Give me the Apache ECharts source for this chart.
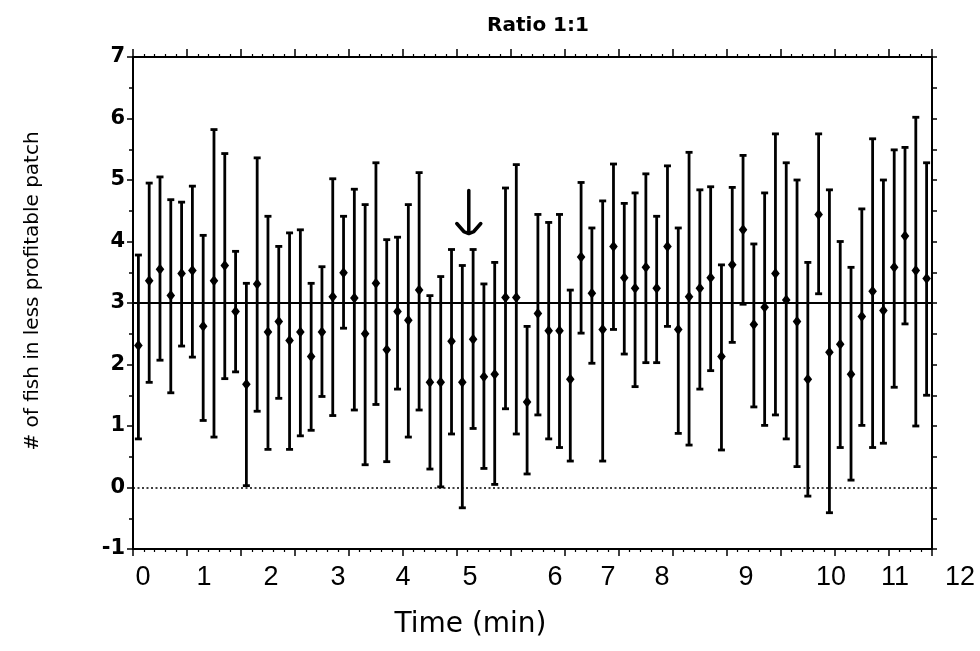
<!DOCTYPE html>
<html><head><meta charset="utf-8">
<script src="https://cdn.jsdelivr.net/npm/echarts@6/dist/echarts.min.js"></script>
<style>html,body{margin:0;padding:0;background:#fff}#c{width:980px;height:651px}</style>
</head><body><div id="c"></div>
<script>
// 10-second bins, mean ± error for "# of fish in less profitable patch"
const means = [2.31,3.36,3.55,3.12,3.48,3.53,2.62,3.36,3.61,2.86,1.68,3.31,2.53,2.70,2.39,2.53,2.13,2.53,3.10,
  3.49,3.08,2.50,3.32,2.24,2.86,2.72,3.21,1.71,1.71,2.38,1.71,2.41,1.80,1.84,3.09,3.09,1.39,2.83,
  2.55,2.55,1.76,3.75,3.16,2.57,3.92,3.41,3.24,3.58,3.24,3.92,2.57,3.10,3.24,3.41,2.13,3.62,4.19,
  2.65,2.93,3.48,3.05,2.70,1.76,4.44,2.20,2.33,1.84,2.78,3.19,2.88,3.58,4.09,3.53,3.40];
const upper = [3.78,4.95,5.05,4.68,4.64,4.90,4.10,5.82,5.43,3.84,3.32,5.36,4.41,3.92,4.14,4.19,3.32,3.59,5.02,
  4.41,4.85,4.60,5.28,4.03,4.07,4.60,5.12,3.12,3.43,3.87,3.61,3.87,3.31,3.66,4.87,5.25,2.62,4.44,
  4.31,4.44,3.21,4.96,4.22,4.66,5.26,4.62,4.79,5.10,4.41,5.23,4.22,5.45,4.84,4.89,3.62,4.88,5.40,
  3.96,4.79,5.75,5.28,5.00,3.66,5.75,4.84,4.00,3.58,4.53,5.67,5.00,5.49,5.53,6.02,5.28];
const lower = [0.79,1.71,2.07,1.54,2.30,2.12,1.09,0.82,1.77,1.88,0.03,1.24,0.62,1.45,0.62,0.84,0.93,1.48,1.17,
  2.59,1.26,0.37,1.35,0.42,1.60,0.82,1.26,0.30,0.01,0.87,-0.33,0.96,0.31,0.05,1.28,0.87,0.22,1.18,
  0.79,0.65,0.43,2.51,2.02,0.43,2.57,2.17,1.64,2.03,2.03,2.62,0.88,0.69,1.60,1.90,0.61,2.36,2.98,
  1.31,1.01,1.18,0.79,0.34,-0.14,3.15,-0.41,0.65,0.12,1.01,0.65,0.72,1.63,2.66,1.00,1.50];
const binCount = 74;
// hand-placed time labels (minutes) and their positions in bin units
const timeLabels = ['0','1','2','3','4','5','6','7','8','9','10','11','12'];
const timeLabelPos = [0.93,6.58,12.78,18.99,25.01,31.21,39.09,43.99,49.0,56.78,64.65,70.58,76.6];
const yMin = -1, yMax = 7;
const refLevel = 3;   // expected value for ratio 1:1
const zeroLevel = 0;
const arrowMark = [31.1, 4.83, 4.13]; // x (bins), top, tip

const barData = means.map((m, i) => [i + 0.5, lower[i], upper[i], m]);

const chart = echarts.init(document.getElementById('c'), null, {renderer: 'canvas'});
const black = '#000';
const labelAxisMax = binCount * (980 - 133) / (980 - 133 - 48);

chart.setOption({
  animation: false,
  backgroundColor: '#fff',
  title: {
    text: 'Ratio 1:1', left: 533, top: 11, textAlign: 'center',
    textStyle: {fontFamily: 'DejaVu Sans', fontWeight: 'bold', fontSize: 20, color: black}
  },
  grid: [
    {left: 133, right: 48, top: 57, bottom: 102},
    {left: 133, right: 0, top: 57, bottom: 102}
  ],
  xAxis: [
    {type: 'value', gridIndex: 0, position: 'bottom', min: 0, max: binCount, interval: 5,
     axisLine: {show: true, onZero: false, lineStyle: {color: black, width: 2}},
     axisTick: {show: true, length: 7, lineStyle: {color: black, width: 1.5}},
     minorTick: {show: true, splitNumber: 5, length: 3, lineStyle: {color: black, width: 1.2}},
     axisLabel: {show: false}, splitLine: {show: false}},
    {type: 'value', gridIndex: 0, position: 'top', min: 0, max: binCount, interval: 5,
     axisLine: {show: true, onZero: false, lineStyle: {color: black, width: 2}},
     axisTick: {show: true, length: 8, lineStyle: {color: black, width: 1.5}},
     minorTick: {show: true, splitNumber: 5, length: 3, lineStyle: {color: black, width: 1.2}},
     axisLabel: {show: false}, splitLine: {show: false}},
    {type: 'value', gridIndex: 1, position: 'bottom', min: 0, max: labelAxisMax,
     axisLine: {show: false}, axisTick: {show: false}, splitLine: {show: false},
     axisLabel: {show: true, customValues: timeLabelPos, margin: 15,
       fontFamily: "'Liberation Sans Narrow', 'Liberation Sans', sans-serif", fontSize: 27, color: black,
       formatter: function (v) {
         let best = 0;
         for (let k = 0; k < timeLabelPos.length; k++) if (Math.abs(timeLabelPos[k] - v) < Math.abs(timeLabelPos[best] - v)) best = k;
         return timeLabels[best];
       }},
     name: 'Time (min)', nameLocation: 'middle', nameGap: 62,
     nameTextStyle: {fontFamily: 'DejaVu Sans', fontSize: 28, color: black, padding: [0, 172, 0, 0]}}
  ],
  yAxis: [
    {type: 'value', gridIndex: 0, position: 'left', min: yMin, max: yMax, interval: 1,
     axisLine: {show: true, onZero: false, lineStyle: {color: black, width: 2}},
     axisTick: {show: true, length: 6, lineStyle: {color: black, width: 1.5}},
     minorTick: {show: true, splitNumber: 2, length: 4, lineStyle: {color: black, width: 1.5}},
     axisLabel: {margin: 8, fontFamily: 'DejaVu Sans', fontWeight: 'bold', fontSize: 21, color: black},
     splitLine: {show: false},
     name: '# of fish in less profitable patch', nameLocation: 'middle', nameGap: 90,
     nameTextStyle: {fontFamily: 'DejaVu Sans', fontSize: 20, color: black, padding: [0, 0, 0, 24]}},
    {type: 'value', gridIndex: 0, position: 'right', min: yMin, max: yMax, interval: 1,
     axisLine: {show: true, onZero: false, lineStyle: {color: black, width: 2}},
     axisTick: {show: true, length: 5, lineStyle: {color: black, width: 1.5}},
     minorTick: {show: true, splitNumber: 2, length: 5, lineStyle: {color: black, width: 1.5}},
     axisLabel: {show: false}, splitLine: {show: false}},
    {type: 'value', gridIndex: 1, min: yMin, max: yMax, show: false}
  ],
  series: [
    {
      type: 'custom', xAxisIndex: 0, yAxisIndex: 0, data: barData, clip: false,
      encode: {x: 0, y: [1, 2, 3]},
      renderItem: function (params, api) {
        const x = api.value(0);
        const lo = api.coord([x, api.value(1)]);
        const hi = api.coord([x, api.value(2)]);
        const m = api.coord([x, api.value(3)]);
        const cap = 3.5, dw = 4.3, dh = 5.5;
        const st = {stroke: black, lineWidth: 2.8};
        return {type: 'group', children: [
          {type: 'line', shape: {x1: lo[0], y1: lo[1], x2: hi[0], y2: hi[1]}, style: st},
          {type: 'line', shape: {x1: hi[0] - cap, y1: hi[1], x2: hi[0] + cap, y2: hi[1]}, style: st},
          {type: 'line', shape: {x1: lo[0] - cap, y1: lo[1], x2: lo[0] + cap, y2: lo[1]}, style: st},
          {type: 'polygon', shape: {points: [[m[0], m[1] - dh], [m[0] + dw, m[1]], [m[0], m[1] + dh], [m[0] - dw, m[1]]]},
           style: {fill: black}}
        ]};
      },
      markLine: {
        silent: true, symbol: ['none', 'none'], label: {show: false},
        data: [
          {yAxis: refLevel, lineStyle: {color: black, width: 2, type: 'solid'}},
          {yAxis: zeroLevel, lineStyle: {color: black, width: 1.6, type: [2, 2.5]}}
        ]
      }
    },
    {
      type: 'custom', xAxisIndex: 0, yAxisIndex: 0, data: [arrowMark], clip: false,
      encode: {x: 0, y: [1, 2]},
      renderItem: function (params, api) {
        const top = api.coord([api.value(0), api.value(1)]);
        const tip = api.coord([api.value(0), api.value(2)]);
        const st = {stroke: black, lineWidth: 3.5, lineCap: 'round', lineJoin: 'round', fill: null};
        return {type: 'group', children: [
          {type: 'line', shape: {x1: top[0], y1: top[1], x2: tip[0], y2: tip[1] - 2}, style: st},
          {type: 'polyline', shape: {points: [[tip[0] - 12, tip[1] - 10], [tip[0] - 5, tip[1] - 2], [tip[0], tip[1]], [tip[0] + 5, tip[1] - 2], [tip[0] + 12, tip[1] - 10]]}, style: st}
        ]};
      }
    }
  ]
});
</script></body></html>
